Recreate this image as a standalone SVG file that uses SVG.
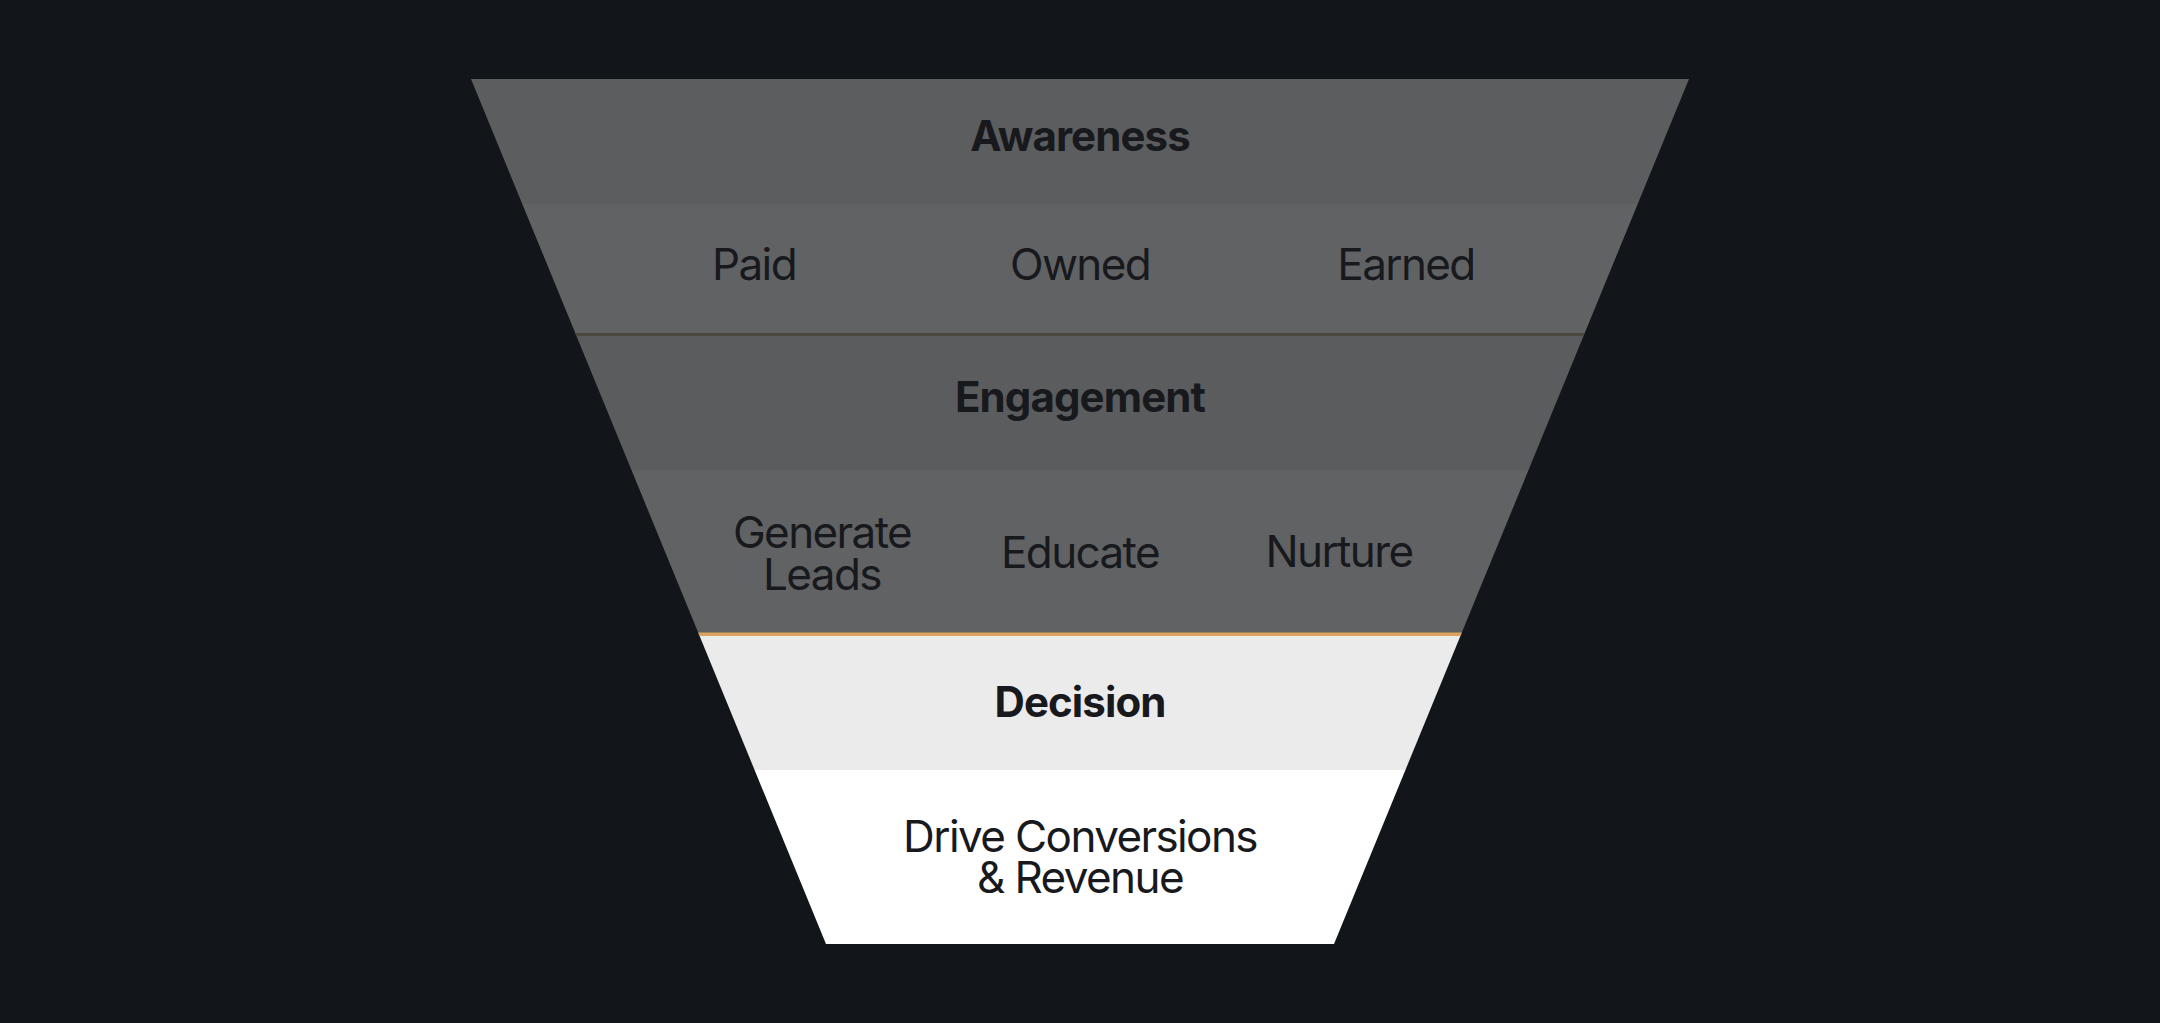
<svg xmlns="http://www.w3.org/2000/svg" width="2160" height="1023" viewBox="0 0 2160 1023">
  <style>
    .bold { font-family: Inter, "Liberation Sans", Arial, sans-serif; font-weight: 700; font-size: 42px; fill: #17191d; text-anchor: middle; letter-spacing: -0.9px; }
    .reg { font-family: Inter, "Liberation Sans", Arial, sans-serif; font-weight: 400; font-size: 44px; fill: #17191d; text-anchor: middle; letter-spacing: -1.6px; }
  </style>
  <defs>
    <clipPath id="funnel">
      <polygon points="471,79 1689,79 1334,944 826,944"/>
    </clipPath>
  </defs>
  <rect x="0" y="0" width="2160" height="1023" fill="#121519"/>
  <g clip-path="url(#funnel)">
    <g id="awareness">
      <rect x="400" y="79" width="1360" height="125" fill="#5c5d5f"/>
      <text class="bold" x="1080" y="151">Awareness</text>
    </g>
    <g id="awareness-channels">
      <rect x="400" y="204" width="1360" height="130" fill="#616264"/>
      <text class="reg" x="754" y="280">Paid</text>
      <text class="reg" x="1080" y="280">Owned</text>
      <text class="reg" x="1406" y="280">Earned</text>
    </g>
    <g id="engagement">
      <rect x="400" y="334" width="1360" height="136" fill="#5b5c5e"/>
      <text class="bold" x="1080" y="412">Engagement</text>
    </g>
    <g id="engagement-actions">
      <rect x="400" y="470" width="1360" height="164" fill="#616264"/>
      <text class="reg" x="822" y="548">Generate</text>
      <text class="reg" x="822" y="590">Leads</text>
      <text class="reg" x="1080" y="568">Educate</text>
      <text class="reg" x="1339" y="567">Nurture</text>
    </g>
    <g id="decision">
      <rect x="400" y="634" width="1360" height="136" fill="#ebebeb"/>
      <text class="bold" x="1080" y="717">Decision</text>
    </g>
    <g id="conversion">
      <rect x="400" y="770" width="1360" height="180" fill="#ffffff"/>
      <text class="reg" x="1080" y="852">Drive Conversions</text>
      <text class="reg" x="1080" y="893">&amp; Revenue</text>
    </g>
    <g id="dividers">
      <rect x="400" y="333" width="1360" height="3" fill="#4d483f"/>
      <rect x="400" y="632.5" width="1360" height="3.5" fill="#dba35e"/>
    </g>
  </g>
</svg>
